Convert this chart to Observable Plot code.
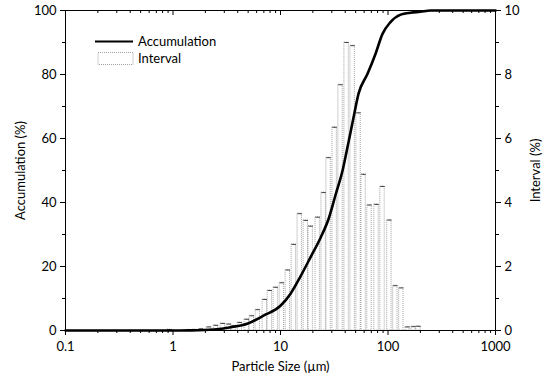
<!DOCTYPE html>
<html><head><meta charset="utf-8">
<script src="https://cdn.jsdelivr.net/npm/d3@7"></script>
<script src="https://cdn.jsdelivr.net/npm/@observablehq/plot@0.6"></script>
<style>
body{margin:0;background:#fff;}
</style>
</head><body><div id="chart"></div>
<script>
// Interval distribution (bar centers in µm, interval %)
const barSizes = [0.93, 1.41, 1.6, 1.82, 2.16, 2.51, 2.91, 3.31, 3.68, 4.19,
  4.86, 5.41, 6.15, 7.14, 7.95, 9.04, 10.3, 11.7, 13.3, 15.1,
  17.2, 19.1, 22.2, 25.2, 28.0, 31.9, 36.2, 41.2, 46.9, 53.2,
  59.3, 67.3, 78.2, 88.9, 103, 117, 133, 152, 173, 192];
const intervals = [0.03, 0.02, 0.03, 0.05, 0.11, 0.16, 0.22, 0.20, 0.15, 0.25,
  0.35, 0.46, 0.65, 0.97, 1.25, 1.35, 1.49, 1.89, 2.69, 3.65,
  3.44, 3.26, 3.54, 4.31, 5.4, 6.35, 7.68, 9.0, 8.9, 6.8,
  4.88, 3.92, 3.94, 4.5, 3.45, 1.4, 1.33, 0.11, 0.12, 0.13];
// Accumulation curve
const cumSizes = [0.1, 1.0, 1.47, 2.4, 3.45, 4.97, 7.0, 10.05, 12.4, 15.4, 19.1, 23.6, 28.1, 32.6, 37.8, 43.0, 47.9, 53.2, 64.5, 76.6, 88.9, 105, 131, 162, 200, 248, 1000];
const cumValues = [0, 0, 0.05, 0.3, 1.0, 2.2, 4.7, 7.8, 11.5, 17.0, 23.0, 29.0, 35.0, 42.5, 50.0, 59.0, 66.7, 74.0, 80.2, 86.5, 92.7, 96.3, 98.7, 99.3, 99.6, 100, 100];
// Tick values
const xMajor = [0.1, 1, 10, 100, 1000];
const xMinor = [0.2,0.3,0.4,0.5,0.6,0.7,0.8,0.9,2,3,4,5,6,7,8,9,20,30,40,50,60,70,80,90,200,300,400,500,600,700,800,900];
const yMajor = [0, 20, 40, 60, 80, 100];
const yMinor = [10, 30, 50, 70, 90];
const rightMajor = [0, 2, 4, 6, 8, 10];
const rightMinor = [1, 3, 5, 7, 9];

const bars = barSizes.map((s, i) => ({s, v: intervals[i] * 10}));
const cum = cumSizes.map((s, i) => ({s, v: cumValues[i]}));
const hw = 1.048;
const blank = () => "";
const FONT = "Lato, 'Open Sans', sans-serif";

const chart = Plot.plot({
  width: 547, height: 376,
  marginLeft: 65, marginRight: 52, marginTop: 10, marginBottom: 46,
  style: {fontFamily: FONT, fontSize: "12px", color: "#000", background: "#fff"},
  x: {type: "log", domain: [0.1, 1000]},
  y: {domain: [0, 100]},
  marks: [
    Plot.rect(bars, {x1: d => d.s / hw, x2: d => d.s * hw, y1: 0, y2: "v", fill: "white", stroke: "#8a8a8a", strokeWidth: 0.8, strokeDasharray: "1,1"}),
    Plot.link(bars, {x1: d => d.s / hw, x2: d => d.s * hw, y1: "v", y2: "v", stroke: "#444", strokeWidth: 1}),
    Plot.line(cum, {x: "s", y: "v", stroke: "#000", strokeWidth: 2.6, curve: "monotone-x"}),
    Plot.frame({stroke: "#000", strokeWidth: 1}),
    Plot.ruleX(xMajor, {stroke: "#000", insetBottom: 315}),
    Plot.ruleX(xMinor, {stroke: "#000", insetBottom: 317}),
    Plot.axisX(xMajor, {anchor: "bottom", tickSize: 5, tickPadding: 6, tickFormat: d => String(d), label: "Particle Size (µm)", labelAnchor: "center", labelArrow: "none", labelOffset: 40, fontSize: 12}),
    Plot.axisX(xMinor, {anchor: "bottom", tickSize: 3, tickFormat: blank, label: null}),
    Plot.axisY(yMajor, {anchor: "left", tickSize: 5, tickPadding: 4, label: "Accumulation (%)", labelAnchor: "center", labelArrow: "none", labelOffset: 50, fontSize: 12}),
    Plot.axisY(yMinor, {anchor: "left", tickSize: 3, tickFormat: blank, label: null}),
    Plot.axisY(rightMajor.map(d => d * 10), {anchor: "right", tickSize: 5, tickPadding: 4, tickFormat: d => String(d / 10), label: "Interval (%)", labelAnchor: "center", labelArrow: "none", labelOffset: 44, fontSize: 12}),
    Plot.axisY(rightMinor.map(d => d * 10), {anchor: "right", tickSize: 3, tickFormat: blank, label: null})
  ]
});
document.getElementById("chart").appendChild(chart);

// Make axis titles larger
d3.select(chart).selectAll("g[aria-label$='label'] text").attr("font-size", 13);

// Legend
const svg = d3.select(chart);
const lg = svg.append("g").attr("font-family", FONT).attr("font-size", 13).attr("text-anchor", "start");
lg.append("line").attr("x1", 95).attr("x2", 133).attr("y1", 41.5).attr("y2", 41.5).attr("stroke", "#000").attr("stroke-width", 2);
lg.append("text").attr("x", 138).attr("y", 46).text("Accumulation");
lg.append("rect").attr("x", 98).attr("y", 52.5).attr("width", 35).attr("height", 12).attr("fill", "white").attr("stroke", "#8a8a8a").attr("stroke-width", 0.8).attr("stroke-dasharray", "1,1");
lg.append("text").attr("x", 138).attr("y", 63).text("Interval");
</script>
</body></html>
